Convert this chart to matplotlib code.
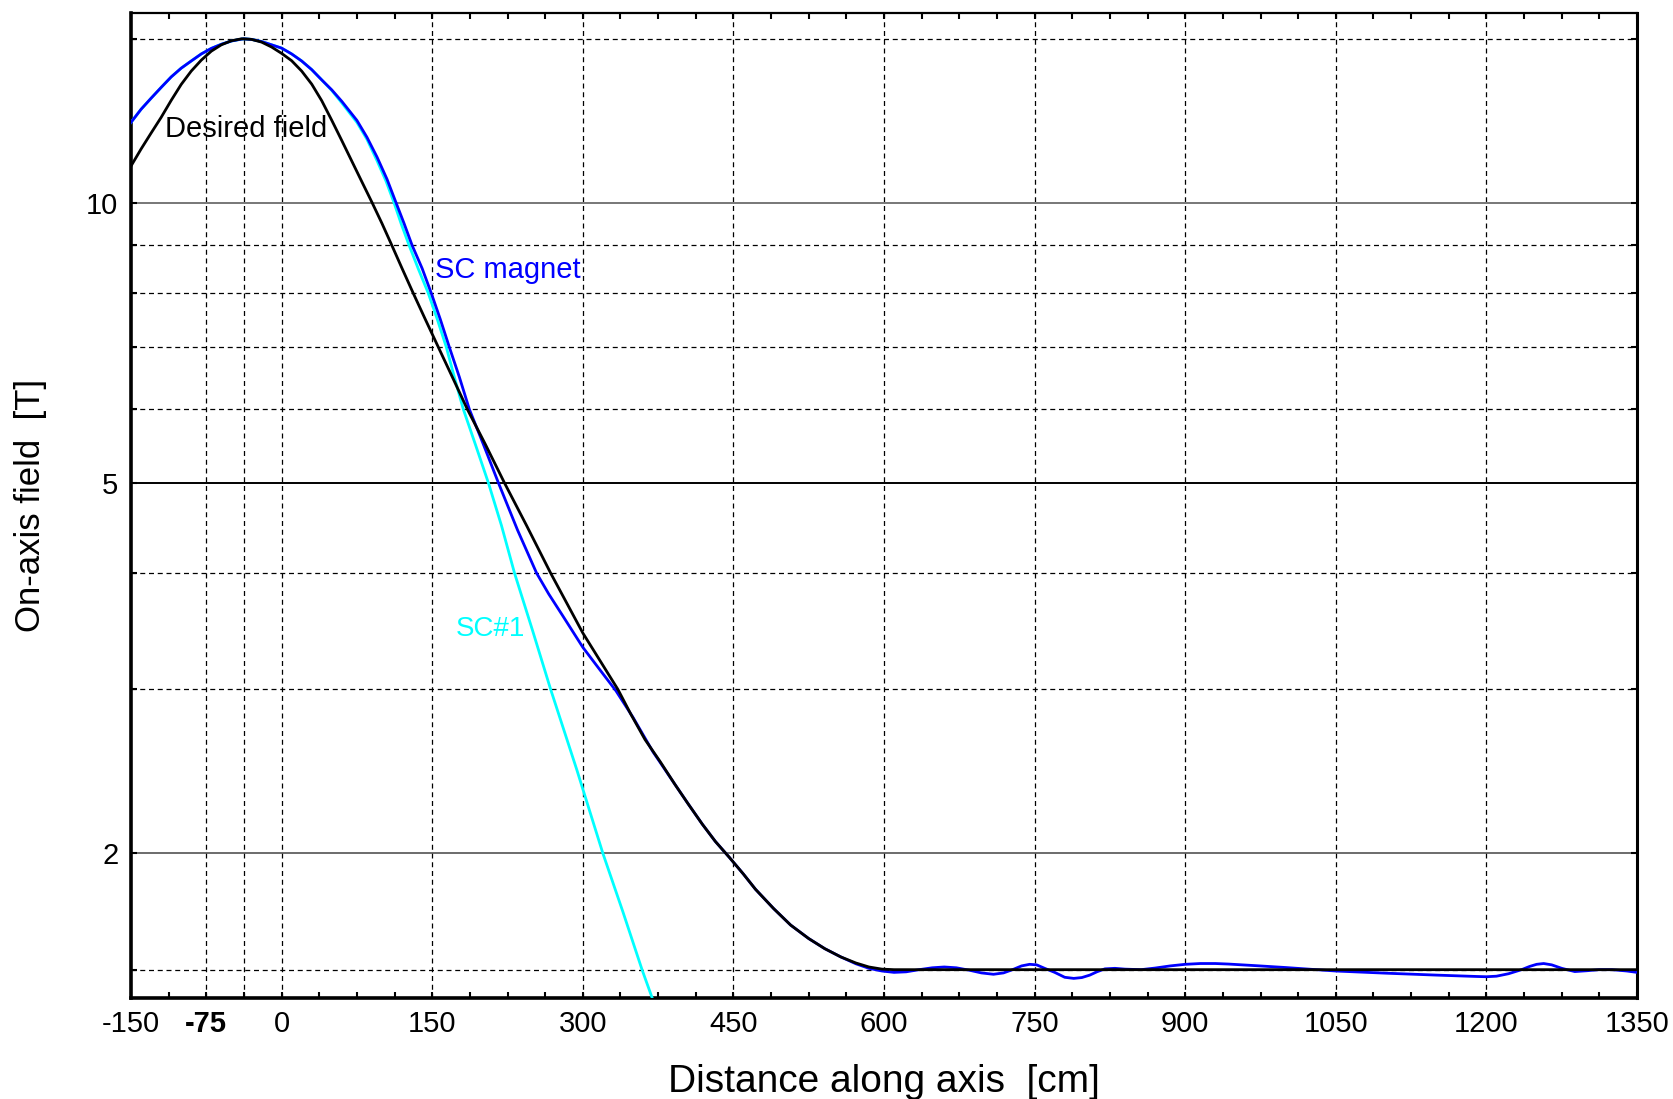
import numpy as np
import matplotlib
matplotlib.use("Agg")
import matplotlib.pyplot as plt
from matplotlib.ticker import FixedLocator, NullFormatter

plt.rcParams['font.family'] = ['Liberation Sans', 'DejaVu Sans']

# desired on-axis field profile [cm, T]
x_desired = [-150, -140, -130, -120, -110, -100, -90, -80, -70, -60, -50, -40, -37.5, -30,
             -20, -10, 0, 10, 20, 30, 40, 50, 60, 70, 80, 90, 100, 110, 120, 131, 143,
             156, 170, 185, 203, 222, 244, 268, 300, 335, 348, 362, 377, 392, 405, 419,
             432, 446, 460, 472, 490, 507, 525, 541, 557, 572, 585, 598, 610, 1350]
b_desired = [10.95, 11.42, 11.88, 12.35, 12.88, 13.4, 13.85, 14.23, 14.55, 14.78, 14.93,
             15.0, 15.0, 14.98, 14.88, 14.7, 14.47, 14.21, 13.85, 13.41, 12.87, 12.26,
             11.66, 11.08, 10.53, 10.01, 9.5, 8.99, 8.5, 8.0, 7.5, 7.0, 6.5, 6.0, 5.5,
             5.0, 4.5, 4.0, 3.45, 3.0, 2.82, 2.65, 2.51, 2.37, 2.26, 2.15, 2.06, 1.98,
             1.9, 1.83, 1.745, 1.675, 1.62, 1.58, 1.548, 1.525, 1.51, 1.502, 1.5, 1.5]

# field of the full superconducting magnet
x_magnet = [-150, -140, -130, -120, -110, -100, -90, -80, -70, -60, -50, -40, -37.5, -30,
            -20, -10, 0, 10, 20, 30, 40, 50, 60, 75, 85, 95, 105, 114, 122, 130, 140,
            149, 158, 167, 177, 187, 201, 216, 235, 254, 266, 280, 300, 316, 333, 350,
            370, 377, 392, 405, 419, 432, 446, 460, 472, 490, 507, 525, 541, 557, 572,
            585, 598, 610, 622, 635, 648, 660, 672, 685, 697, 709, 719, 728, 737, 745,
            752, 760, 770, 780, 789, 797, 805, 812, 820, 830, 840, 856, 870, 885, 900,
            915, 930, 943, 970, 1000, 1050, 1100, 1150, 1190, 1200, 1210, 1222, 1235,
            1243, 1250, 1257, 1265, 1275, 1288, 1300, 1312, 1325, 1340, 1350]
b_magnet = [12.2, 12.6, 12.95, 13.3, 13.65, 13.95, 14.2, 14.45, 14.65, 14.8, 14.92, 14.99,
            15.0, 14.98, 14.9, 14.78, 14.66, 14.45, 14.2, 13.9, 13.55, 13.22, 12.85,
            12.26, 11.76, 11.2, 10.6, 10.0, 9.5, 9.0, 8.5, 8.0, 7.5, 7.0, 6.5, 6.0, 5.5,
            5.0, 4.45, 4.0, 3.8, 3.6, 3.33, 3.16, 2.99, 2.8, 2.57, 2.505, 2.37, 2.26,
            2.15, 2.06, 1.98, 1.9, 1.83, 1.745, 1.675, 1.62, 1.58, 1.548, 1.522, 1.505,
            1.495, 1.49, 1.492, 1.5, 1.507, 1.51, 1.507, 1.498, 1.488, 1.483, 1.488, 1.5,
            1.514, 1.52, 1.518, 1.505, 1.49, 1.472, 1.468, 1.471, 1.48, 1.492, 1.503,
            1.505, 1.502, 1.5, 1.506, 1.514, 1.52, 1.523, 1.523, 1.521, 1.515, 1.508,
            1.495, 1.487, 1.48, 1.475, 1.474, 1.476, 1.485, 1.5, 1.512, 1.52, 1.523,
            1.518, 1.505, 1.493, 1.496, 1.5, 1.5, 1.495, 1.49]

# first coil alone
x_sc1 = [-150, -140, -130, -120, -110, -100, -90, -80, -70, -60, -50, -40, -37.5, -30,
         -20, -10, 0, 10, 20, 30, 40, 50, 60, 75, 85, 95, 104, 112, 119, 127, 136, 146,
         155, 164, 172, 181, 193, 206, 219, 232, 250, 268, 294, 320, 340, 359, 370]
b_sc1 = [12.2, 12.6, 12.95, 13.3, 13.65, 13.95, 14.2, 14.45, 14.65, 14.8, 14.92, 14.99,
         15.0, 14.98, 14.9, 14.78, 14.66, 14.45, 14.2, 13.9, 13.55, 13.2, 12.8, 12.2,
         11.7, 11.1, 10.55, 10.0, 9.5, 9.0, 8.5, 8.0, 7.5, 7.0, 6.5, 6.0, 5.5, 5.0, 4.5,
         4.0, 3.47, 3.0, 2.46, 2.0, 1.73, 1.5, 1.39]

x_ticks = [-150, -75, 0, 150, 300, 450, 600, 750, 900, 1050, 1200, 1350]
x_grid = [-75, -37.5, 0, 150, 300, 450, 600, 750, 900, 1050, 1200]
y_major = [2, 5, 10]
y_minor = [1.5, 3, 4, 6, 7, 8, 9, 15]

fig = plt.figure(figsize=(16.73, 10.99), dpi=100)
ax = fig.add_axes([0.0783, 0.0923, 0.9002, 0.8961])
ax.set_yscale('log')
ax.set_xlim(-150, 1350)
ax.set_ylim(1.4, 16)

dash = (0, (4, 3))
for xv in x_grid:
    ax.axvline(xv, color='black', lw=0.9, ls=dash, zorder=1)
for yv in y_minor:
    ax.axhline(yv, color='black', lw=0.9, ls=dash, zorder=1)
ax.axhline(2, color='#444444', lw=1.1, zorder=1)
ax.axhline(5, color='black', lw=1.4, zorder=1)
ax.axhline(10, color='#777777', lw=1.4, zorder=1)

ax.plot(x_sc1, b_sc1, color='#00ffff', lw=2.0, zorder=3)
ax.plot(x_magnet, b_magnet, color='#0000ff', lw=2.0, zorder=4)
ax.plot(x_desired, b_desired, color='black', lw=2.0, zorder=5)

ax.text(-35, 12.0, 'Desired field', fontsize=21, ha='center', va='center', zorder=6)
ax.text(153, 8.47, 'SC magnet', fontsize=21, color='#0000ff', ha='left', va='center', zorder=6)
ax.text(173, 3.48, 'SC#1', fontsize=20, color='#00ffff', ha='left', va='center', zorder=6)

ax.xaxis.set_major_locator(FixedLocator(x_ticks))
ax.xaxis.set_minor_locator(FixedLocator(np.arange(-150, 1351, 37.5)))
ax.set_xticklabels([str(v) for v in x_ticks])
ax.get_xticklabels()[1].set_fontweight('bold')
ax.yaxis.set_major_locator(FixedLocator(y_major))
ax.yaxis.set_minor_locator(FixedLocator(y_minor))
ax.set_yticklabels([str(v) for v in y_major])
ax.yaxis.set_minor_formatter(NullFormatter())

ax.tick_params(which='both', direction='in', top=True, right=True, length=4, width=1.5,
               labelsize=21, colors='black')
ax.tick_params(axis='x', pad=9)
ax.tick_params(axis='y', pad=9)

ax.spines['left'].set_linewidth(2.6)
ax.spines['bottom'].set_linewidth(2.6)
ax.spines['right'].set_linewidth(2.2)
ax.spines['top'].set_linewidth(1.6)

ax.set_xlabel('Distance along axis  [cm]', fontsize=28, labelpad=19)
ax.set_ylabel('On-axis field  [T]', fontsize=25, labelpad=28)

fig.savefig('out.png', dpi=100)
